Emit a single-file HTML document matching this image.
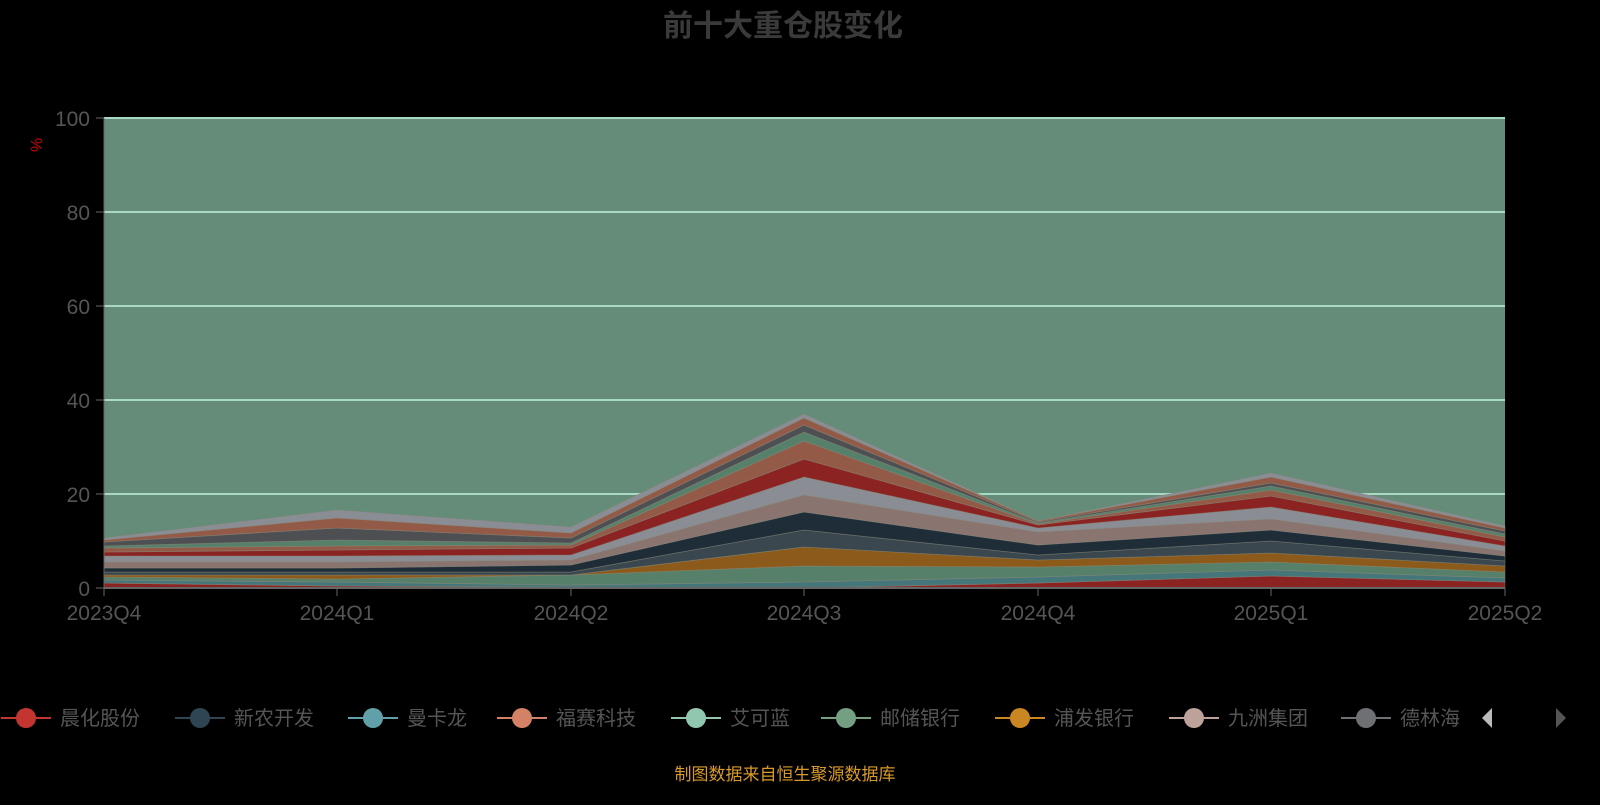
<!DOCTYPE html>
<html><head><meta charset="utf-8"><style>
body{margin:0;background:#000;width:1600px;height:800px;overflow:hidden}
svg text{font-family:"Liberation Sans","Noto Sans CJK SC",sans-serif}
</style></head><body>
<svg width="1600" height="800" xmlns="http://www.w3.org/2000/svg">
<text x="783" y="36" text-anchor="middle" font-size="30" font-weight="bold" fill="#3a3a3a">前十大重仓股变化</text>
<rect x="104" y="118" width="1401" height="470" fill="#658b79"/>
<g stroke="#a9d8c3" stroke-width="2">
<line x1="104" y1="118" x2="1505" y2="118"/><line x1="104" y1="212" x2="1505" y2="212"/>
<line x1="104" y1="306" x2="1505" y2="306"/><line x1="104" y1="400" x2="1505" y2="400"/>
<line x1="104" y1="494" x2="1505" y2="494"/>
</g>
<g id="areas" stroke-width="0.8"></g>
<line x1="104" y1="588" x2="1505" y2="588" stroke="#666" stroke-width="2"/>
<line x1="104" y1="118" x2="104" y2="588" stroke="#666" stroke-width="1"/>
<g fill="#555" font-size="21" text-anchor="end">
<text x="90" y="126">100</text><text x="90" y="220">80</text><text x="90" y="314">60</text>
<text x="90" y="408">40</text><text x="90" y="502">20</text><text x="90" y="596">0</text>
</g>
<g stroke="#666"><line x1="96" y1="118" x2="104" y2="118"/><line x1="96" y1="212" x2="104" y2="212"/><line x1="96" y1="306" x2="104" y2="306"/><line x1="96" y1="400" x2="104" y2="400"/><line x1="96" y1="494" x2="104" y2="494"/><line x1="96" y1="588" x2="104" y2="588"/></g>
<text x="48" y="158" fill="#c00" font-size="16" transform="rotate(-90 42 158)">%</text>
<g fill="#555" font-size="21" text-anchor="middle">
<text x="104" y="620">2023Q4</text><text x="337" y="620">2024Q1</text><text x="571" y="620">2024Q2</text>
<text x="804" y="620">2024Q3</text><text x="1038" y="620">2024Q4</text><text x="1271" y="620">2025Q1</text><text x="1505" y="620">2025Q2</text>
</g>
<g stroke="#666"><line x1="337" y1="588" x2="337" y2="596"/><line x1="571" y1="588" x2="571" y2="596"/><line x1="804" y1="588" x2="804" y2="596"/><line x1="1038" y1="588" x2="1038" y2="596"/><line x1="1271" y1="588" x2="1271" y2="596"/><line x1="1505" y1="588" x2="1505" y2="596"/><line x1="104" y1="588" x2="104" y2="596"/></g>
<g id="legend" font-size="20" fill="#555"></g>
<text x="785" y="780" text-anchor="middle" fill="#d89a2a" font-size="17">制图数据来自恒生聚源数据库</text>
<polygon points="1482,718 1492,708 1492,728" fill="#bbb"/>
<polygon points="1566,718 1556,708 1556,728" fill="#555"/>
</svg>
<script>
var xs=[104,337,571,804,1038,1271,1505];
var b=[[588,588,588,588,588,588,588],
[583,586,587,588,583,576,582],
[580,582,585,582,577,570,578],
[577,579,575,566,567,562,572],
[575,575,575,547,560,553,566],
[572,572,572,530,555,541,561],
[568,568,565,512,545,530,556],
[562,562,560,495,532,519,551],
[556,556,555,477,528,507,546],
[552,550,548,459,525,496,541],
[548,546,545,441,524,490,537],
[546,540,543,432,523,486,534],
[542,528,538,425,522,483,531],
[540,518,533,418,521,477,528],
[538,510,527,414,521,473,526]];
var c=["#8b2323","#44767a","#57806a","#8c5a1a","#3a474e","#1f2d38","#8a7470","#8a8d94","#8b2323","#935a48","#57806a","#4d4f52","#935a48","#8a8d94"];
var g=document.getElementById('areas'),s='';
for(var i=1;i<b.length;i++){var p=[];for(var j=0;j<7;j++)p.push(xs[j]+','+b[i][j]);for(var j=6;j>=0;j--)p.push(xs[j]+','+b[i-1][j]);
s+='<polygon points="'+p.join(' ')+'" fill="'+c[i-1]+'" stroke="#8a8a7a" stroke-opacity="0.5"/>';}
g.innerHTML=s;
var L=[["晨化股份","#c23531",26],["新农开发","#2f4554",200],["曼卡龙","#61a0a8",373],["福赛科技","#d48265",522],["艾可蓝","#91c7ae",696],["邮储银行","#749f83",846],["浦发银行","#ca8622",1020],["九洲集团","#bda29a",1194],["德林海","#6e7074",1366]];
var t='';L.forEach(function(l){var x=l[2];t+='<line x1="'+(x-25)+'" y1="718" x2="'+(x+25)+'" y2="718" stroke="'+l[1]+'" stroke-width="2"/><circle cx="'+x+'" cy="718" r="10" fill="'+l[1]+'"/><text x="'+(x+34)+'" y="725">'+l[0]+'</text>';});
document.getElementById('legend').innerHTML=t;
</script>
</body></html>
